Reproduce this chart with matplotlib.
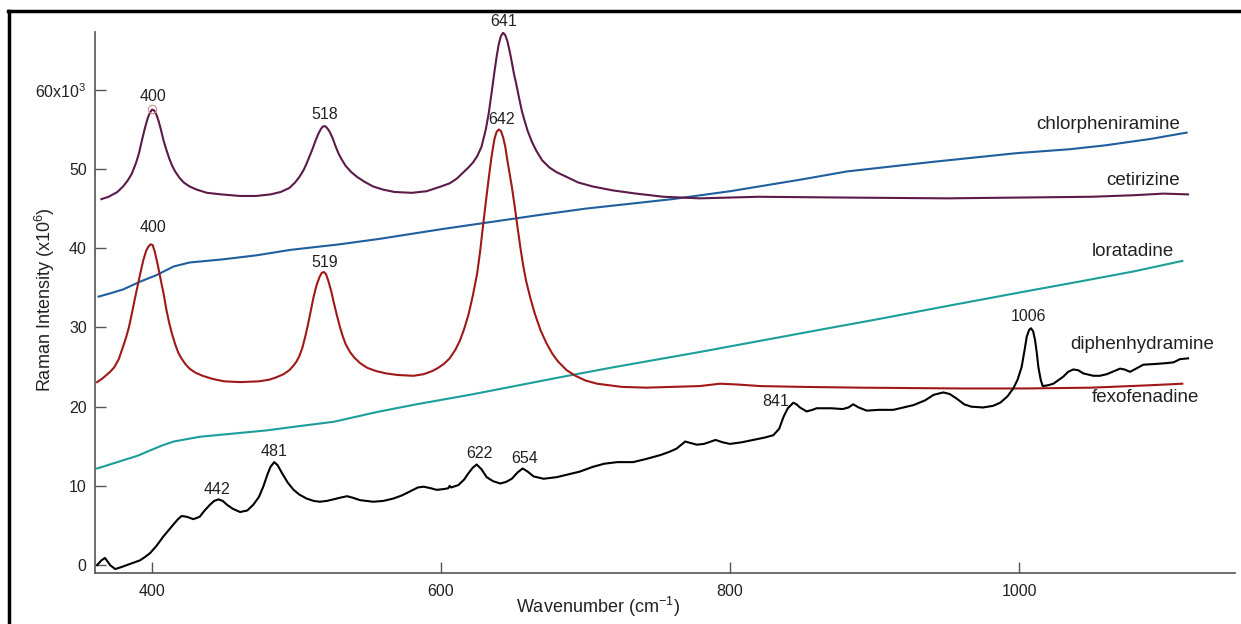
import numpy as np
import matplotlib.pyplot as plt
from matplotlib.lines import Line2D

plt.rcParams['font.family'] = ['Liberation Sans', 'DejaVu Sans']
plt.rcParams['mathtext.fontset'] = 'custom'
plt.rcParams['mathtext.rm'] = 'Liberation Sans'
plt.rcParams['mathtext.it'] = 'Liberation Sans:italic'

# Spectra (wavenumber in cm-1, intensity in x10^6)
cet_x = [365, 370, 376, 380, 383, 386, 389, 391, 393, 395, 397, 398.5, 400, 401.5, 403, 404.5, 406,
         408, 410, 412, 414, 416, 419, 422, 426, 431, 438, 448, 461, 472, 482, 489, 495, 499, 502,
         505, 507, 509, 511, 513, 515, 517, 518.5, 520, 521.5, 523, 525, 527, 529, 531, 534, 538,
         542, 547, 553, 560, 568, 580, 590, 600, 606, 611, 615, 619, 622, 625, 628, 631, 633, 635,
         637, 638.5, 640, 641.5, 643, 644.5, 646, 647.5, 649, 650.5, 652, 654, 656, 658, 660, 663,
         666, 670, 675, 680, 687, 695, 705, 719, 735, 754, 779, 820, 880, 950, 1000, 1050, 1080,
         1100, 1117]
cet_y = [46.2, 46.5, 47.1, 47.8, 48.5, 49.4, 50.8, 52.0, 53.6, 55.1, 56.4, 57.1, 57.5, 57.4, 56.9,
         56.1, 55.1, 53.6, 52.4, 51.3, 50.4, 49.7, 48.9, 48.3, 47.8, 47.4, 47.0, 46.8, 46.6, 46.6,
         46.8, 47.1, 47.6, 48.3, 49.0, 49.9, 50.7, 51.6, 52.5, 53.5, 54.4, 55.1, 55.4, 55.4, 55.1,
         54.7, 53.9, 52.9, 52.0, 51.3, 50.4, 49.6, 49.0, 48.4, 47.8, 47.4, 47.1, 47.0, 47.2, 47.8,
         48.2, 48.8, 49.5, 50.2, 50.8, 51.6, 52.8, 55.0, 57.0, 59.6, 62.3, 64.2, 65.8, 66.8, 67.2,
         66.9, 66.1, 64.9, 63.5, 62.0, 60.8, 59.0, 57.3, 56.0, 54.8, 53.4, 52.3, 51.1, 50.2, 49.6,
         49.0, 48.3, 47.8, 47.3, 46.9, 46.5, 46.3, 46.5, 46.4, 46.3, 46.4, 46.5, 46.7, 46.9, 46.8]

fex_x = [362, 366, 371, 374, 377, 380, 382, 384, 386, 388, 390, 392, 394, 396, 397.5, 399, 400.5,
         402, 403.5, 405, 406.5, 408, 410, 412, 414, 416, 418, 420, 423, 426, 430, 435, 442, 450,
         461, 474, 481, 486, 491, 495, 498, 500, 502, 504, 506, 508, 510, 512, 514, 516, 517.5,
         519, 520.5, 522, 524, 526, 528, 530, 532, 534, 537, 540, 544, 549, 555, 562, 570, 581,
         588, 594, 598, 602, 606, 610, 613, 616, 619, 622, 625, 627, 629, 631, 633, 635, 637,
         638.5, 640, 641.5, 643, 644.5, 646, 647.5, 649, 651, 653, 655, 657, 659, 662, 665, 669,
         673, 677, 681, 687, 693, 700, 708, 725, 742, 760, 779, 793, 805, 821, 850, 890, 960,
         1005, 1050, 1090, 1113]
fex_y = [23.1, 23.6, 24.4, 25.0, 26.0, 27.6, 28.7, 30.0, 31.7, 33.5, 35.2, 36.9, 38.5, 39.7, 40.2,
         40.5, 40.4, 39.5, 38.3, 37.0, 35.6, 34.3, 32.2, 30.5, 29.1, 27.9, 26.9, 26.2, 25.4, 24.8,
         24.3, 23.9, 23.5, 23.2, 23.1, 23.2, 23.4, 23.7, 24.1, 24.6, 25.2, 25.7, 26.4, 27.4, 28.8,
         30.4, 32.2, 34.0, 35.4, 36.4, 36.9, 37.0, 36.7, 35.9, 34.6, 33.0, 31.5, 30.1, 28.9, 27.9,
         26.9, 26.2, 25.5, 24.9, 24.5, 24.2, 24.0, 23.9, 24.1, 24.5, 24.9, 25.4, 26.1, 27.2, 28.3,
         29.8, 31.6, 34.0, 36.8, 39.5, 42.7, 45.8, 48.8, 51.6, 53.8, 54.7, 55.0, 54.8, 54.0, 52.8,
         51.0, 49.4, 47.8, 45.3, 42.6, 40.0, 37.7, 35.8, 33.6, 31.7, 29.6, 28.0, 26.7, 25.7, 24.6,
         23.9, 23.3, 22.9, 22.5, 22.4, 22.5, 22.6, 22.9, 22.8, 22.6, 22.5, 22.4, 22.3, 22.3, 22.4,
         22.7, 22.9]

chl_x = [363, 371, 380, 392, 403, 415, 426, 449, 472, 496, 530, 558, 600, 668, 700, 760, 780, 800,
         850, 881, 940, 998, 1035, 1060, 1091, 1116]
chl_y = [33.9, 34.3, 34.8, 35.8, 36.6, 37.7, 38.2, 38.6, 39.1, 39.8, 40.5, 41.2, 42.4, 44.2, 45.0,
         46.2, 46.7, 47.2, 48.7, 49.7, 50.9, 52.0, 52.5, 53.0, 53.8, 54.6]

lor_x = [362, 376, 390, 399, 407, 415, 433, 456, 479, 500, 526, 555, 583, 620, 682, 720, 779, 862,
         904, 950, 1000, 1042, 1080, 1113]
lor_y = [12.2, 13.0, 13.8, 14.5, 15.1, 15.6, 16.2, 16.6, 17.0, 17.5, 18.1, 19.3, 20.3, 21.5, 23.7,
         25.0, 26.9, 29.7, 31.1, 32.7, 34.4, 35.8, 37.1, 38.4]

dip_x = [362, 365, 367.5, 371, 374.5, 378, 382.5, 387, 391.7, 395, 398.6, 403, 407.8, 411, 414.7,
         418, 420.5, 424, 428.6, 433, 436, 440, 443, 446, 449, 452, 456, 461, 466, 470, 474, 477,
         480, 482, 484.6, 487, 490, 494, 498, 502, 507, 512, 516, 521, 525.5, 530, 535, 539, 544,
         553, 560, 567, 573, 578.5, 584, 588, 593, 597, 602, 605, 606, 607, 612, 616, 619, 622,
         624.7, 628, 631.6, 636, 641, 645, 649, 653, 656.5, 660, 664, 671, 680, 687, 696, 705, 713,
         722, 733, 742, 752, 758, 763, 769, 773, 777, 782, 790, 795, 800, 808, 816, 824, 830, 834,
         837, 840, 843.8, 846, 848.4, 853, 857, 860, 870, 878, 882, 885.3, 889, 894.6, 903, 913,
         920, 927, 935, 941, 947.6, 952, 957, 962, 967, 975, 982, 987, 992, 996, 999, 1001.8, 1004,
         1005.3, 1007, 1008.3, 1009.8, 1011.1, 1012.3, 1013.4, 1015, 1016.4, 1020, 1023.8, 1030.7,
         1034, 1037.6, 1041, 1044.5, 1051.4, 1056, 1060.7, 1066, 1069.9, 1073, 1076.8, 1081, 1086,
         1095, 1102, 1107, 1111.4, 1117]
dip_y = [0.0, 0.6, 0.9, 0.0, -0.5, -0.3, 0.0, 0.3, 0.6, 1.0, 1.5, 2.4, 3.6, 4.3, 5.1, 5.8, 6.2, 6.1,
         5.8, 6.1, 6.8, 7.6, 8.1, 8.3, 8.1, 7.6, 7.1, 6.7, 6.9, 7.6, 8.6, 9.9, 11.5, 12.4, 13.0,
         12.6, 11.6, 10.4, 9.5, 8.9, 8.4, 8.1, 8.0, 8.1, 8.3, 8.5, 8.7, 8.5, 8.2, 8.0, 8.1, 8.4,
         8.8, 9.3, 9.8, 9.9, 9.7, 9.5, 9.6, 9.7, 10.0, 9.8, 10.1, 10.8, 11.6, 12.3, 12.7, 12.1,
         11.1, 10.6, 10.3, 10.5, 10.9, 11.7, 12.2, 11.8, 11.2, 10.9, 11.1, 11.4, 11.8, 12.4, 12.8,
         13.0, 13.0, 13.4, 13.9, 14.3, 14.7, 15.6, 15.4, 15.2, 15.3, 15.8, 15.5, 15.3, 15.5, 15.8,
         16.1, 16.4, 17.2, 18.7, 19.8, 20.5, 20.3, 19.9, 19.4, 19.6, 19.8, 19.8, 19.7, 19.9, 20.3,
         19.9, 19.5, 19.6, 19.6, 19.9, 20.2, 20.8, 21.5, 21.8, 21.6, 21.0, 20.3, 20.0, 19.9, 20.1,
         20.5, 21.3, 22.3, 23.4, 25.0, 27.3, 28.8, 29.7, 29.9, 29.5, 28.4, 26.8, 25.0, 23.4, 22.6,
         22.7, 22.9, 23.8, 24.4, 24.7, 24.6, 24.2, 23.9, 23.9, 24.1, 24.5, 24.8, 24.7, 24.4, 24.8,
         25.3, 25.4, 25.5, 25.6, 26.0, 26.1]

# peak labels: (text, x, y)
peak_labels = [('400', 400.7, 59.1), ('518', 519.7, 56.9), ('641', 643, 68.6),
               ('642', 642.2, 56.3), ('400', 400.5, 42.6), ('519', 519.6, 38.2),
               ('442', 444.8, 9.6), ('481', 484.4, 14.3), ('622', 626.3, 14.1),
               ('654', 657.7, 13.4), ('1006', 1006.7, 31.4)]

fig = plt.figure(figsize=(12.41, 6.24), dpi=100)
ax = fig.add_axes([0.0766, 0.0817, 0.9186, 0.867])

ax.plot(chl_x, chl_y, color='#1f5f9e', lw=1.5)
ax.plot(lor_x, lor_y, color='#1c9e9a', lw=1.5)
ax.plot(fex_x, fex_y, color='#a01818', lw=1.5)
ax.plot(cet_x, cet_y, color='#5c1a48', lw=1.5)
ax.plot(dip_x, dip_y, color='black', lw=1.5)
ax.plot([400], [57.6], 'o', mfc='none', mec='#d09090', ms=6, mew=0.8)

for s, x, y in peak_labels:
    ax.text(x, y, s, ha='center', va='center', fontsize=11.5, color='#222222')
ax.text(841, 20.7, '841', ha='right', va='center', fontsize=11.5, color='#222222')

ax.text(1111.4, 55.6, 'chlorpheniramine', ha='right', va='center', fontsize=13.5, color='#222222')
ax.text(1111.4, 48.6, 'cetirizine', ha='right', va='center', fontsize=13.5, color='#222222')
ax.text(1107, 39.6, 'loratadine', ha='right', va='center', fontsize=13.5, color='#222222')
ax.text(1135.2, 27.9, 'diphenhydramine', ha='right', va='center', fontsize=13.5, color='#222222')
ax.text(1124.8, 21.2, 'fexofenadine', ha='right', va='center', fontsize=13.5, color='#222222')

ax.set_xlim(360.6, 1149.5)
ax.set_ylim(-1.0, 67.3)
ax.set_xticks([400, 600, 800, 1000])
ax.set_yticks([0, 10, 20, 30, 40, 50, 60])
ax.set_yticklabels(['0', '10', '20', '30', '40', '50', r'60x10$^{3}$'])
for side in ['top', 'right']:
    ax.spines[side].set_visible(False)
for side in ['left', 'bottom']:
    ax.spines[side].set_color('#555555')
    ax.spines[side].set_linewidth(1.2)
ax.tick_params(direction='in', length=8, width=1, color='#555555', labelsize=11.5,
               labelcolor='#222222')
ax.tick_params(axis='x', pad=8)
ax.tick_params(axis='y', pad=6)

fig.text(598 / 1241, 1 - 607 / 624, r'Wavenumber (cm$^{-1}$)', ha='center', va='center',
         fontsize=13, color='#222222')
fig.text(45 / 1241, 1 - 300 / 624, r'Raman Intensity (x10$^{6}$)', ha='center', va='center',
         rotation=90, fontsize=13, color='#222222')

# outer frame (top and left edges)
fig.add_artist(Line2D([8 / 1241, 1], [1 - 11 / 624, 1 - 11 / 624], color='black', lw=2.5,
                      transform=fig.transFigure))
fig.add_artist(Line2D([9 / 1241, 9 / 1241], [0, 1 - 11 / 624], color='black', lw=2.5,
                      transform=fig.transFigure))

fig.savefig('out.png', dpi=100)
